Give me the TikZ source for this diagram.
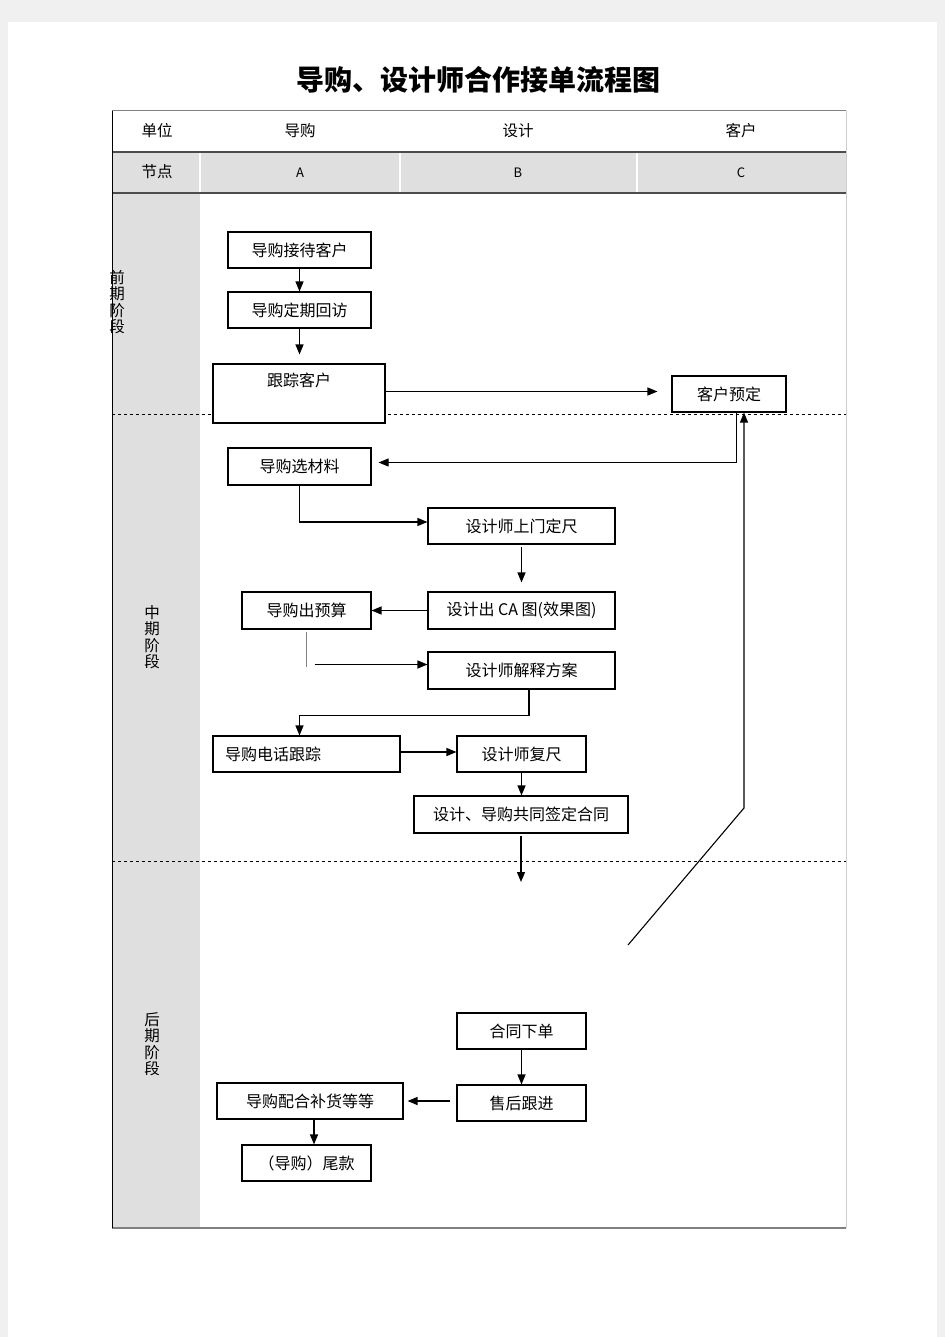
\documentclass[tikz,border=0pt]{standalone}
\usepackage{fontspec}
\setmainfont{Noto Sans CJK SC}
\usetikzlibrary{arrows.meta}

\begin{document}
\begin{tikzpicture}[x=1pt, y=-1pt,
	box/.style={draw, fill=white, line width=1.1pt, inner sep=0pt, font=\fontsize{16}{17}\selectfont},
	arr/.style={line width=1.3pt, -{Triangle[length=10pt,width=8pt]}},
	hdr/.style={font=\fontsize{15.5}{17}\selectfont},
	phase/.style={align=center, font=\fontsize{15.5}{16.5}\selectfont}]

	% page and margins
	\useasboundingbox (0,0) rectangle (945,1337);
	\fill[gray!12] (0,0) rectangle (945,1337);
	\fill[white] (8,22) rectangle (937,1337);

	\node[font=\fontsize{28}{30}\selectfont\bfseries] (title) at (478,80) {导购、设计师合作接单流程图};

	% grey parts of the table
	\fill[gray!25] (112,152) rectangle (846,193);
	\fill[gray!25] (112,193) rectangle (200,1228);
	\foreach \x in {200,400,637}
		\draw[white, line width=1.5pt] (\x,152) -- (\x,193);

	% table lines
	\draw[gray, line width=1pt] (112,111) -- (846,111);
	\draw[black!70, line width=1.5pt] (112,152) -- (846,152);
	\draw[black!70, line width=1.5pt] (112,193) -- (846,193);
	\draw[gray, line width=1.2pt] (112,1228) -- (846,1228);
	\draw[gray!40, line width=1pt] (846,111) -- (846,1228);
	\draw[black, line width=1pt] (112,111) -- (112,1228);
	\foreach \y in {414,861}
		\draw[dashed, line width=0.9pt] (112,\y) -- (846,\y);

	% header rows
	\node[hdr] (unit) at (157,131) {单位};
	\node[hdr] (unitA) at (300,131) {导购};
	\node[hdr] (unitB) at (518,131) {设计};
	\node[hdr] (unitC) at (741,131) {客户};
	\node[hdr] (step) at (157,172) {节点};
	\node[font=\fontsize{13}{14}\selectfont] (stepA) at (300,173) {A};
	\node[font=\fontsize{13}{14}\selectfont] (stepB) at (518,173) {B};
	\node[font=\fontsize{13}{14}\selectfont] (stepC) at (741,173) {C};

	% phases
	\node[phase] (early) at (117,302) {前\\期\\阶\\段};
	\node[phase] (middle) at (152,637) {中\\期\\阶\\段};
	\node[phase] (late) at (152,1044) {后\\期\\阶\\段};

	% boxes
	\node[box, minimum width=143pt, minimum height=36pt] (jiedai) at (299.5,250) {导购接待客户};
	\node[box, minimum width=143pt, minimum height=36pt] (huifang) at (299.5,310) {导购定期回访};
	\node[box, minimum width=172pt, minimum height=59pt,
		label={[anchor=north, yshift=-6pt, font=\fontsize{16}{17}\selectfont]north:跟踪客户}] (genzong) at (299,393.5) {};
	\node[box, minimum width=114pt, minimum height=36pt] (yuding) at (729,394) {客户预定};
	\node[box, minimum width=143pt, minimum height=37pt] (xuancai) at (299.5,466.5) {导购选材料};
	\node[box, minimum width=187pt, minimum height=36pt] (dingchi) at (521.5,526) {设计师上门定尺};
	\node[box, minimum width=187pt, minimum height=37pt] (catu) at (521.5,610.5) {设计出 CA 图(效果图)};
	\node[box, minimum width=129pt, minimum height=37pt] (yusuan) at (306.5,610.5) {导购出预算};
	\node[box, minimum width=187pt, minimum height=37pt] (jieshi) at (521.5,670.5) {设计师解释方案};
	\node[box, text width=163pt, inner xsep=12pt, align=left, minimum height=36pt] (dianhua) at (306.5,754) {导购电话跟踪};
	\node[box, minimum width=129pt, minimum height=36pt] (fuchi) at (521.5,754) {设计师复尺};
	\node[box, minimum width=214pt, minimum height=37pt] (hetong) at (521,814.5) {设计、导购共同签定合同};
	\node[box, minimum width=129pt, minimum height=36pt] (xiadan) at (521.5,1031) {合同下单};
	\node[box, minimum width=129pt, minimum height=36pt] (shouhou) at (521.5,1103) {售后跟进};
	\node[box, minimum width=186pt, minimum height=36pt] (buhuo) at (310,1101) {导购配合补货等等};
	\node[box, minimum width=129pt, minimum height=36pt] (weikuan) at (306.5,1163) {（导购）尾款};

	\coordinate (back) at (628,945);
	\coordinate (down) at (521,882);

	% connectors
	\draw[arr] (jiedai) -- (huifang);
	\draw[arr, shorten >=9pt] (huifang.south) -- (huifang.south |- genzong.north);
	\draw[arr, shorten >=14pt] ([yshift=2pt]genzong.east) -- ([yshift=2pt]genzong.east -| yuding.west);
	\draw[arr, line width=0.9pt, shorten >=7pt] ([xshift=7pt]yuding.south) |- ([yshift=4pt]xuancai.east);
	\draw[arr, line width=1.1pt] (back) -- (744,808) -- ([xshift=15pt]yuding.south);
	\draw[arr] (xuancai.south) |- ([yshift=4pt]dingchi.west);
	\draw[arr, shorten <=2pt, shorten >=9pt] (dingchi.south) -- (catu.north);
	\draw[arr] (catu.west) -- (yusuan.east);
	\draw[gray, line width=1.2pt] ([yshift=-2pt]yusuan.south) -- ++(0,35);
	\draw[arr] ([xshift=8pt, yshift=6pt]yusuan.south |- jieshi.west) -- ([yshift=6pt]jieshi.west);
	\draw[arr] ([xshift=7.5pt]jieshi.south) -- ++(0,26) -| (xuancai.south |- dianhua.north);
	\draw[arr] ([yshift=2pt]dianhua.east) -- ([yshift=2pt]fuchi.west);
	\draw[arr] (fuchi.south) -- (fuchi.south |- hetong.north);
	\draw[arr, shorten <=2pt] (hetong.south) -- (down);
	\draw[arr] (xiadan.south) -- (shouhou.north);
	\draw[arr, shorten <=6pt, shorten >=4pt] ([yshift=2pt]shouhou.west) -- ([yshift=2pt]shouhou.west -| buhuo.east);
	\draw[arr] ([xshift=4pt]buhuo.south) -- ([xshift=4pt]buhuo.south |- weikuan.north);

\end{tikzpicture}
\end{document}
